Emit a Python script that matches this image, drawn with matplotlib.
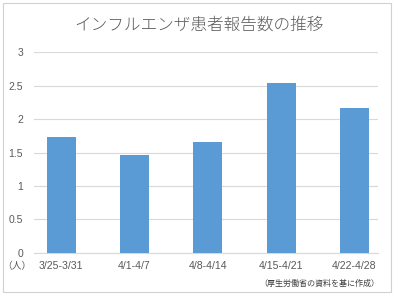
import matplotlib
matplotlib.use("Agg")
import matplotlib.pyplot as plt
from matplotlib.patches import Rectangle

# データ
weeks = ["3/25-3/31", "4/1-4/7", "4/8-4/14", "4/15-4/21", "4/22-4/28"]
patients = [1.73, 1.46, 1.66, 2.54, 2.16]
y_ticks = [0, 0.5, 1, 1.5, 2, 2.5, 3]
y_tick_labels = ["0", "0.5", "1", "1.5", "2", "2.5", "3"]

title = "インフルエンザ患者報告数の推移"
unit = "（人）"
source = "（厚生労働省の資料を基に作成）"

grey_text = "#595959"
jp_font = ["Noto Sans CJK JP", "DejaVu Sans"]
num_font = ["Liberation Sans", "DejaVu Sans"]

fig = plt.figure(figsize=(3.96, 2.95), dpi=100)
fig.patch.set_facecolor("white")

# 外枠
fig.patches.append(Rectangle((3 / 396, 3 / 295), 388 / 396, 289 / 295,
                             transform=fig.transFigure, fill=False,
                             edgecolor="#d0d0d0", linewidth=0.8))

ax = fig.add_axes([0.0866, 0.1434, 0.8687, 0.6793])
x = list(range(len(weeks)))
ax.bar(x, patients, width=0.396, color="#5b9bd5", zorder=3)

ax.set_ylim(0, 3)
ax.set_xlim(-0.367, 4.325)
ax.set_yticks(y_ticks)
ax.set_yticklabels(y_tick_labels, family=num_font, fontsize=7.5, color=grey_text)
ax.set_xticks(x)
ax.set_xticklabels(weeks, family=num_font, fontsize=7.6, color=grey_text)
ax.tick_params(axis="both", length=0)
ax.tick_params(axis="y", pad=8)
ax.tick_params(axis="x", pad=6)
ax.grid(axis="y", color="#d9d9d9", linewidth=0.8, zorder=0)
for s in ["top", "right", "left"]:
    ax.spines[s].set_visible(False)
ax.spines["bottom"].set_color("#d9d9d9")
ax.spines["bottom"].set_linewidth(0.8)

fig.text(199 / 396, 1 - 25 / 295, title, family=jp_font, fontsize=12,
         weight="light", color=grey_text, ha="center", va="center")
fig.text(17 / 396, 1 - 266 / 295, unit, family=jp_font, fontsize=7,
         color=grey_text, ha="center", va="center")
fig.text(379 / 396, 1 - 283 / 295, source, family=jp_font, fontsize=5.8,
         color="#404040", ha="right", va="center")

fig.savefig("out.png", dpi=100)
